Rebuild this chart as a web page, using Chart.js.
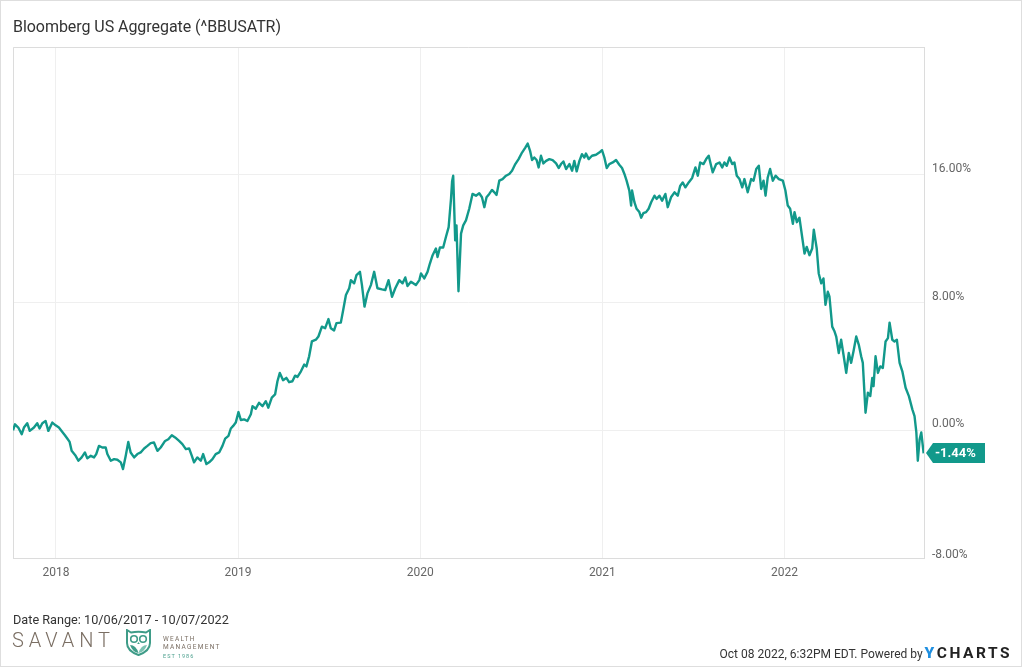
<!DOCTYPE html>
<html>
<head>
<meta charset="utf-8">
<script src="https://cdn.jsdelivr.net/npm/chart.js@4.4.0/dist/chart.umd.min.js"></script>
<style>
  html, body { margin: 0; padding: 0; background: #fff; }
  #wrap { position: relative; width: 1024px; height: 668px; overflow: hidden; font-family: Roboto, "Noto Sans", sans-serif; }
  #frame { position: absolute; left: 0; top: 0; width: 1020px; height: 665px; border: 1px solid #dedede; pointer-events: none; }
  #chart { position: absolute; left: 0; top: 0; }
  .txt { position: absolute; white-space: nowrap; color: #333; }
  .title { left: 13px; top: 19px; font-size: 16px; line-height: 16px; letter-spacing: -0.05px; }
  .range { left: 13px; top: 613px; font-size: 12.7px; line-height: 13px; }
  .savant { left: 12px; top: 630px; font-size: 20px; line-height: 20px; font-weight: 300; letter-spacing: 4.9px; color: #7a6e63; }
  .owl { position: absolute; left: 125px; top: 629px; }
  .wm { left: 163px; font-size: 6.5px; line-height: 7px; letter-spacing: 1.3px; color: #7a6e63; }
  .est { left: 163px; top: 653px; font-size: 5.5px; line-height: 6px; letter-spacing: 1px; color: #4da08e; }
  .stamp { right: 12px; top: 645px; font-size: 12px; line-height: 16px; display: flex; align-items: baseline; }
  .yc { font-weight: 700; font-size: 15.5px; letter-spacing: 2.5px; margin-left: 2px; color: #222; }
  .yc b { color: #1f8fe0; }
</style>
</head>
<body>
<div id="wrap">
  <canvas id="chart" width="1024" height="668"></canvas>
  <div class="txt title">Bloomberg US Aggregate (^BBUSATR)</div>
  <div class="txt range">Date Range: 10/06/2017 - 10/07/2022</div>
  <div class="txt savant">SAVANT</div>
  <svg class="owl" width="27" height="27" viewBox="0 0 27 27">
    <path d="M2 1 L6 3.5 Q13.5 2 21 3.5 L25 1 L25 14 Q25 22 13.5 26 Q2 22 2 14 Z" fill="none" stroke="#3f9c88" stroke-width="2"/>
    <circle cx="9" cy="10" r="3.3" fill="none" stroke="#3f9c88" stroke-width="1.6"/>
    <circle cx="18" cy="10" r="3.3" fill="none" stroke="#3f9c88" stroke-width="1.6"/>
    <path d="M13.5 13 l-1.4 2 h2.8 z" fill="#3f9c88"/>
    <path d="M5 16 Q11 16 13.5 24 Q7.5 23 5 16 Z" fill="#3f9c88"/>
    <path d="M22 16 Q16 16 13.5 24 Q19.5 23 22 16 Z" fill="#7cc2b2"/>
  </svg>
  <div class="txt wm" style="top:636px">WEALTH</div>
  <div class="txt wm" style="top:644px">MANAGEMENT</div>
  <div class="txt est">EST 1986</div>
  <div class="txt stamp"><span>Oct 08 2022, 6:32PM EDT. Powered by</span><span class="yc"><b>Y</b>CHARTS</span></div>
  <div id="frame"></div>
</div>
<script>
// Bloomberg US Aggregate total return (%), 10/06/2017 - 10/07/2022
// x positions as decimal years
const years = [
  2017.764, 2017.775, 2017.793, 2017.812, 2017.824, 2017.842, 2017.856, 2017.879, 2017.897, 2017.910,
  2017.925, 2017.943, 2017.958, 2017.980, 2017.998, 2018.016, 2018.035, 2018.049, 2018.062, 2018.075,
  2018.086, 2018.108, 2018.123, 2018.141, 2018.159, 2018.172, 2018.191, 2018.209, 2018.221, 2018.236,
  2018.254, 2018.273, 2018.282, 2018.301, 2018.319, 2018.337, 2018.356, 2018.368, 2018.383, 2018.397,
  2018.410, 2018.429, 2018.447, 2018.465, 2018.484, 2018.502, 2018.520, 2018.538, 2018.557, 2018.575,
  2018.599, 2018.617, 2018.636, 2018.654, 2018.676, 2018.694, 2018.713, 2018.731, 2018.746, 2018.758,
  2018.776, 2018.795, 2018.808, 2018.826, 2018.841, 2018.859, 2018.877, 2018.896, 2018.914, 2018.929,
  2018.947, 2018.960, 2018.973, 2018.987, 2019.002, 2019.015, 2019.033, 2019.051, 2019.070, 2019.079,
  2019.097, 2019.115, 2019.134, 2019.152, 2019.166, 2019.185, 2019.203, 2019.216, 2019.229, 2019.247,
  2019.265, 2019.280, 2019.298, 2019.313, 2019.326, 2019.345, 2019.363, 2019.375, 2019.390, 2019.405,
  2019.427, 2019.441, 2019.460, 2019.478, 2019.496, 2019.509, 2019.527, 2019.540, 2019.564, 2019.577,
  2019.592, 2019.610, 2019.619, 2019.637, 2019.650, 2019.669, 2019.680, 2019.694, 2019.710, 2019.729,
  2019.747, 2019.765, 2019.790, 2019.808, 2019.826, 2019.845, 2019.863, 2019.885, 2019.903, 2019.918,
  2019.930, 2019.949, 2019.976, 2019.995, 2020.004, 2020.022, 2020.040, 2020.053, 2020.068, 2020.086,
  2020.095, 2020.108, 2020.126, 2020.141, 2020.156, 2020.169, 2020.175, 2020.181, 2020.192, 2020.199,
  2020.210, 2020.224, 2020.236, 2020.251, 2020.269, 2020.287, 2020.306, 2020.324, 2020.339, 2020.352,
  2020.364, 2020.379, 2020.394, 2020.407, 2020.419, 2020.434, 2020.452, 2020.471, 2020.489, 2020.504,
  2020.522, 2020.540, 2020.559, 2020.577, 2020.590, 2020.603, 2020.614, 2020.626, 2020.639, 2020.650,
  2020.663, 2020.676, 2020.691, 2020.709, 2020.727, 2020.746, 2020.760, 2020.773, 2020.786, 2020.801,
  2020.819, 2020.834, 2020.846, 2020.859, 2020.874, 2020.888, 2020.901, 2020.910, 2020.925, 2020.943,
  2020.965, 2020.983, 2020.998, 2021.011, 2021.024, 2021.038, 2021.057, 2021.075, 2021.093, 2021.108,
  2021.121, 2021.133, 2021.148, 2021.158, 2021.163, 2021.176, 2021.188, 2021.203, 2021.213, 2021.225,
  2021.240, 2021.254, 2021.268, 2021.286, 2021.298, 2021.313, 2021.328, 2021.346, 2021.359, 2021.377,
  2021.396, 2021.414, 2021.427, 2021.441, 2021.456, 2021.474, 2021.493, 2021.511, 2021.524, 2021.537,
  2021.555, 2021.570, 2021.584, 2021.597, 2021.606, 2021.625, 2021.643, 2021.658, 2021.670, 2021.683,
  2021.698, 2021.713, 2021.725, 2021.738, 2021.753, 2021.768, 2021.780, 2021.798, 2021.817, 2021.830,
  2021.845, 2021.859, 2021.872, 2021.885, 2021.896, 2021.908, 2021.921, 2021.936, 2021.951, 2021.969,
  2021.991, 2022.005, 2022.018, 2022.031, 2022.046, 2022.055, 2022.068, 2022.082, 2022.097, 2022.110,
  2022.122, 2022.137, 2022.152, 2022.161, 2022.170, 2022.177, 2022.188, 2022.202, 2022.214, 2022.225,
  2022.238, 2022.247, 2022.262, 2022.275, 2022.284, 2022.298, 2022.311, 2022.324, 2022.339, 2022.353,
  2022.366, 2022.379, 2022.394, 2022.408, 2022.421, 2022.430, 2022.445, 2022.458, 2022.471, 2022.482,
  2022.489, 2022.500, 2022.513, 2022.526, 2022.540, 2022.555, 2022.568, 2022.577, 2022.592, 2022.604,
  2022.617, 2022.632, 2022.647, 2022.665, 2022.683, 2022.702, 2022.714, 2022.724, 2022.732, 2022.742,
  2022.751, 2022.764
];

const returns = [
  0.00, 0.37, 0.17, -0.25, 0.17, 0.44, -0.04, 0.17, 0.44, 0.11,
  0.44, 0.58, -0.04, 0.48, 0.31, 0.17, -0.11, -0.31, -0.52, -0.73,
  -1.29, -1.60, -1.91, -1.70, -1.39, -1.76, -1.60, -1.70, -1.49, -0.98,
  -1.08, -1.08, -1.49, -1.91, -1.81, -1.85, -2.01, -2.43, -1.60, -0.73,
  -1.39, -1.70, -1.49, -1.39, -1.14, -0.98, -0.81, -0.77, -1.29, -1.08,
  -0.67, -0.56, -0.31, -0.45, -0.67, -0.87, -1.18, -1.14, -1.60, -2.01,
  -1.70, -1.91, -1.49, -2.12, -2.01, -1.81, -1.49, -1.39, -0.98, -0.52,
  -0.35, 0.11, 0.27, 0.48, 1.14, 0.64, 0.68, 0.58, 1.00, 1.51,
  1.35, 1.72, 1.51, 1.82, 1.41, 2.04, 2.24, 3.07, 3.59, 3.13,
  3.28, 3.01, 3.07, 3.42, 3.34, 3.69, 4.11, 4.00, 4.63, 5.56,
  5.67, 5.87, 6.49, 6.39, 6.96, 6.39, 6.25, 6.71, 6.74, 7.53,
  8.47, 8.89, 9.40, 9.20, 9.71, 9.92, 9.09, 7.74, 8.57, 9.09,
  9.92, 8.89, 8.82, 8.78, 9.40, 8.36, 8.89, 9.40, 9.20, 9.57,
  9.03, 9.30, 9.09, 9.40, 9.82, 9.51, 9.92, 10.44, 10.96, 11.38,
  10.85, 11.44, 11.44, 12.10, 12.72, 14.50, 15.60, 15.94, 11.89, 12.83,
  8.70, 12.31, 12.83, 13.14, 13.87, 14.80, 14.69, 14.84, 14.59, 13.97,
  14.59, 14.80, 15.05, 14.90, 14.74, 15.63, 15.73, 15.94, 16.05, 16.25,
  16.67, 16.98, 17.39, 17.70, 17.95, 17.50, 16.92, 17.08, 16.92, 16.46,
  17.19, 16.71, 16.87, 16.98, 16.92, 16.71, 16.42, 16.67, 16.83, 16.36,
  16.67, 16.25, 16.87, 16.21, 16.87, 17.29, 17.08, 17.33, 16.98, 17.19,
  17.25, 17.39, 17.54, 17.08, 16.42, 16.67, 16.77, 16.92, 16.63, 16.42,
  16.05, 15.63, 15.01, 14.07, 15.01, 14.28, 13.87, 13.66, 13.31, 13.59,
  13.66, 13.87, 14.28, 14.69, 14.49, 14.69, 14.38, 14.80, 13.97, 14.59,
  14.90, 14.69, 15.30, 15.52, 15.21, 15.52, 15.80, 16.46, 15.94, 16.77,
  16.67, 16.98, 17.19, 16.56, 16.15, 16.67, 16.77, 16.46, 16.77, 16.56,
  17.08, 16.67, 16.77, 15.94, 15.73, 15.21, 15.73, 14.90, 15.73, 15.63,
  16.36, 16.56, 15.11, 15.63, 14.69, 15.83, 16.36, 15.63, 15.94, 15.73,
  15.63, 15.01, 14.07, 13.87, 12.93, 13.66, 13.03, 13.31, 12.10, 11.06,
  11.48, 10.96, 11.38, 12.56, 11.89, 11.38, 9.82, 9.20, 9.51, 7.85,
  8.67, 8.36, 6.49, 6.18, 5.87, 4.84, 5.67, 4.73, 3.59, 4.84,
  4.22, 4.94, 5.87, 5.35, 4.63, 4.22, 1.10, 2.35, 2.14, 3.28,
  2.76, 4.63, 3.59, 4.00, 3.90, 5.56, 5.77, 6.74, 5.67, 5.56,
  5.67, 4.22, 3.69, 2.66, 2.14, 1.31, 0.89, -0.14, -1.91, -0.56,
  -0.14, -1.44
];

const yearTicks = [2018, 2019, 2020, 2021, 2022];
const startYear = 2017.764;   // 10/06/2017
const endYear = 2022.766;     // 10/07/2022
const yMin = -8, yMax = 24, yStep = 8;

const lineColor = '#12998b';
const gridColor = '#efefef';
const frameColor = '#dcdcdc';
const tickFont = { family: 'Roboto', size: 12 };
const fmtPct = (v) => v.toFixed(2) + '%';

// frame on the left and top of the plot area, plus the bottom tick label
// (YCharts sits the lowest label just above the frame, not centred)
const framePlugin = {
  id: 'frame',
  beforeDatasetsDraw(chart) {
    const { ctx, chartArea: a, scales } = chart;
    ctx.save();
    ctx.strokeStyle = frameColor;
    ctx.lineWidth = 1;
    ctx.beginPath();
    ctx.moveTo(a.left + 0.5, a.bottom);
    ctx.lineTo(a.left + 0.5, a.top + 0.5);
    ctx.lineTo(a.right, a.top + 0.5);
    ctx.stroke();
    ctx.fillStyle = '#666';
    ctx.font = '12px Roboto, sans-serif';
    ctx.textAlign = 'left';
    ctx.textBaseline = 'middle';
    ctx.fillText(fmtPct(yMin), a.right + 8, scales.y.getPixelForValue(yMin) - 3);
    ctx.restore();
  }
};

// last-value flag on the right axis
const lastValuePlugin = {
  id: 'lastValue',
  afterDatasetsDraw(chart) {
    const { ctx, chartArea: a } = chart;
    const meta = chart.getDatasetMeta(0);
    const pt = meta.data[meta.data.length - 1];
    const val = returns[returns.length - 1];
    const tip = a.right + 2, boxL = a.right + 9, boxR = a.right + 61, h = 20;
    const y = Math.round(pt.y);
    ctx.save();
    ctx.fillStyle = lineColor;
    ctx.beginPath();
    ctx.moveTo(tip, y);
    ctx.lineTo(boxL, y - h / 2);
    ctx.lineTo(boxR, y - h / 2);
    ctx.lineTo(boxR, y + h / 2);
    ctx.lineTo(boxL, y + h / 2);
    ctx.closePath();
    ctx.fill();
    ctx.fillStyle = '#fff';
    ctx.font = 'bold 13px Roboto, sans-serif';
    ctx.textAlign = 'left';
    ctx.textBaseline = 'middle';
    ctx.fillText(fmtPct(val), boxL + 2, y + 1);
    ctx.restore();
  }
};

const points = years.map((t, i) => ({ x: t, y: returns[i] }));

new Chart(document.getElementById('chart'), {
  type: 'line',
  data: {
    datasets: [{
      data: points,
      borderColor: lineColor,
      borderWidth: 2.4,
      pointRadius: 0,
      tension: 0,
      borderJoinStyle: 'round',
      fill: false
    }]
  },
  options: {
    responsive: false,
    animation: false,
    layout: { padding: { left: 13, top: 47, right: 0, bottom: 0 } },
    plugins: { legend: { display: false }, tooltip: { enabled: false } },
    scales: {
      x: {
        type: 'linear',
        min: startYear,
        max: endYear,
        afterBuildTicks: (s) => { s.ticks = yearTicks.map(v => ({ value: v })); },
        afterFit: (s) => { s.height = 110; },
        grid: { color: gridColor, drawTicks: false },
        border: { color: frameColor },
        ticks: {
          autoSkip: false,
          maxRotation: 0,
          padding: 8,
          color: '#666',
          font: tickFont,
          callback: (v) => String(v)
        }
      },
      y: {
        position: 'right',
        min: yMin,
        max: yMax,
        afterFit: (s) => { s.width = 100; },
        grid: { color: gridColor, drawTicks: false },
        border: { color: frameColor },
        ticks: {
          stepSize: yStep,
          padding: 8,
          labelOffset: -6,
          color: '#666',
          font: tickFont,
          // top and bottom labels are handled elsewhere / not shown
          callback: (v) => (v === yMax || v === yMin ? '' : fmtPct(v))
        }
      }
    }
  },
  plugins: [framePlugin, lastValuePlugin]
});
</script>
</body>
</html>
